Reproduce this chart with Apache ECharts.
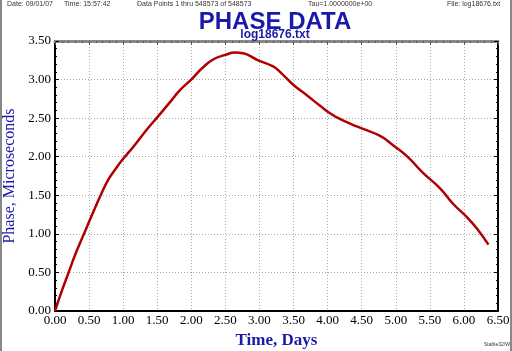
<!DOCTYPE html>
<html>
<head>
<meta charset="utf-8">
<script src="https://cdn.jsdelivr.net/npm/echarts@6/dist/echarts.min.js"></script>
<style>
  html, body { margin: 0; padding: 0; background: #fff; }
  #chart { width: 512px; height: 351px; }
</style>
</head>
<body>
<div id="chart"></div>
<script>
// time in days, phase in microseconds
const timeDays = [0, 0.1, 0.2, 0.3, 0.42, 0.55, 0.66, 0.78, 0.88, 0.98, 1.15, 1.345, 1.5, 1.7, 1.83, 2.01, 2.15, 2.32, 2.5, 2.64, 2.76, 2.98, 3.2, 3.3, 3.5, 3.69, 3.89, 4.04, 4.18, 4.33, 4.52, 4.77, 4.96, 5.16, 5.4, 5.65, 5.84, 6.04, 6.19, 6.36]
const phaseUs = [0, 0.26, 0.5, 0.74, 0.99, 1.26, 1.48, 1.7, 1.83, 1.95, 2.13, 2.35, 2.51, 2.72, 2.86, 3.01, 3.14, 3.26, 3.32, 3.35, 3.34, 3.25, 3.17, 3.1, 2.93, 2.8, 2.66, 2.56, 2.49, 2.43, 2.36, 2.27, 2.15, 2.01, 1.79, 1.59, 1.39, 1.22, 1.07, 0.86]

const headerTexts = ['Date: 09/01/07', 'Time: 15:57:42', 'Data Points 1 thru 548573 of 548573', 'Tau=1.0000000e+00', 'File: log18676.txt']
const headerX = [7, 64, 137, 308, 447]

const blue = '#1a1aa8'
const serif = '"Liberation Serif", "DejaVu Serif", serif'
const sans = '"Liberation Sans", Arial, sans-serif'

const chart = echarts.init(document.getElementById('chart'))

const labelFmt = v => v.toFixed(2)

// dotted grid, without the lines that sit on the frame
const gridLine = {
  show: true, showMinLine: false, showMaxLine: false,
  lineStyle: { type: [1, 2], color: '#aaa', width: 1 }
}

const option = {
  backgroundColor: '#fff',
  animation: false,
  title: [
    {
      text: 'PHASE DATA',
      left: 270, top: 5, textAlign: 'center',
      textStyle: { fontFamily: sans, fontWeight: 'bold', fontSize: 24, color: blue }
    },
    {
      text: 'log18676.txt',
      left: 270, top: 24, textAlign: 'center',
      textStyle: { fontFamily: sans, fontWeight: 'bold', fontSize: 12, color: blue }
    }
  ],
  graphic: [
    ...headerTexts.map((t, i) => ({
      type: 'text', left: headerX[i], top: 1,
      style: { text: t, font: '7px ' + sans, fill: '#333' }
    })),
    {
      type: 'text', left: 484, top: 342,
      style: { text: 'Stable32/Win', font: '5px ' + sans, fill: '#333' }
    },
    { type: 'rect', left: 0, top: 0, shape: { width: 2, height: 351 }, style: { fill: '#888' } },
    { type: 'rect', left: 510, top: 0, shape: { width: 2, height: 351 }, style: { fill: '#888' } }
  ],
  grid: { left: 55, right: 14, top: 41, bottom: 40, outerBoundsMode: 'none' },
  xAxis: [
    {
      type: 'value', min: 0, max: 6.5, interval: 0.5,
      name: 'Time, Days', nameLocation: 'middle', nameGap: 12,
      nameTextStyle: { fontFamily: serif, fontSize: 17, fontWeight: 'bold', color: blue },
      axisLine: { onZero: false, lineStyle: { color: '#000', width: 2 } },
      axisTick: { show: false },
      axisLabel: { formatter: labelFmt, fontFamily: serif, fontSize: 13, color: '#000', margin: 3 },
      splitLine: gridLine
    },
    {
      type: 'value', min: 0, max: 6.5, interval: 0.5, position: 'top',
      axisLine: { show: true, onZero: false, lineStyle: { color: '#888', width: 3 } },
      axisTick: { show: true, inside: true, length: 4, lineStyle: { color: '#555' } },
      minorTick: { show: true, splitNumber: 5, length: 2, lineStyle: { color: '#555' } },
      axisLabel: { show: false },
      splitLine: { show: false }
    }
  ],
  yAxis: [
    {
      type: 'value', min: 0, max: 3.5, interval: 0.5,
      name: 'Phase, Microseconds', nameLocation: 'middle', nameGap: 36,
      nameTextStyle: { fontFamily: serif, fontSize: 16, color: blue },
      axisLine: { show: true, onZero: false, lineStyle: { color: '#000', width: 2 } },
      axisTick: { show: true, inside: true, length: 4, lineStyle: { color: '#000' } },
      minorTick: { show: true, splitNumber: 5, length: 2, lineStyle: { color: '#000' } },
      axisLabel: { formatter: labelFmt, fontFamily: serif, fontSize: 13, color: '#000', margin: 4 },
      splitLine: gridLine
    },
    {
      type: 'value', min: 0, max: 3.5, interval: 0.5, position: 'right',
      axisLine: { show: true, onZero: false, lineStyle: { color: '#000', width: 2 } },
      axisTick: { show: true, inside: true, length: 4, lineStyle: { color: '#000' } },
      minorTick: { show: true, splitNumber: 5, length: 2, lineStyle: { color: '#000' } },
      axisLabel: { show: false },
      splitLine: { show: false }
    }
  ],
  series: [
    {
      type: 'line',
      data: timeDays.map((t, i) => [t, phaseUs[i]]),
      smooth: 0.5,
      showSymbol: false,
      lineStyle: { color: '#b00000', width: 2.5 }
    }
  ]
}

chart.setOption(option)
</script>
</body>
</html>
